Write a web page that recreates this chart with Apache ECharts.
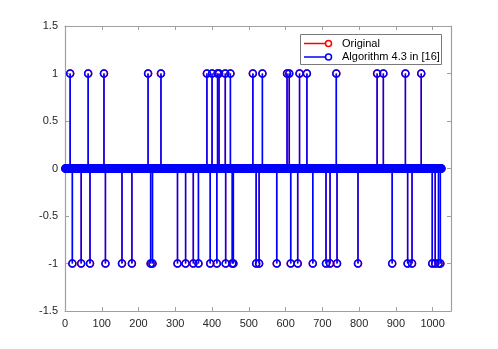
<!DOCTYPE html>
<html>
<head>
<meta charset="utf-8">
<script src="https://cdn.jsdelivr.net/npm/echarts@6/dist/echarts.min.js"></script>
<style>
  html, body { margin: 0; padding: 0; background: #fff; }
  #app { width: 498px; height: 349px; }
</style>
</head>
<body>
<div id="app"></div>
<script>
// signal length and spike positions
const signalLength = 1024;
const plusOnes = [14, 63, 106, 226, 261, 386, 400, 415, 419, 436, 450, 511, 528, 537, 604, 610, 638, 658, 738, 849, 866, 926, 969];
const minusOnes = [20, 44, 68, 110, 155, 182, 233, 238, 306, 328, 349, 363, 395, 413, 437, 455, 458, 520, 528, 576, 614, 633, 674, 710, 721, 740, 797, 890, 932, 944, 999, 1007, 1016, 1021];
const xTicks = [0, 1050, 100];
const yTicks = [-1.5, 1.5, 0.5];

function buildSignal() {
  const out = [];
  for (let i = 1; i <= signalLength; i++) {
    let v = 0;
    if (plusOnes.indexOf(i) >= 0) v = 1;
    if (minusOnes.indexOf(i) >= 0) v = -1;
    out.push([i, v]);
  }
  return out;
}

const original = buildSignal();
const recovered = buildSignal();

const RED = '#ff0000';
const BLUE = '#0000ff';
const FONT = '"Liberation Sans", Arial, sans-serif';

function stems(color, width) {
  return function (params, api) {
    const x = api.value(0);
    const y = api.value(1);
    if (y === 0) {
      return null;
    }
    const p0 = api.coord([x, 0]);
    const p1 = api.coord([x, y]);
    return {
      type: 'line',
      shape: { x1: p0[0], y1: p0[1], x2: p1[0], y2: p1[1] },
      style: { stroke: color, lineWidth: width },
    };
  };
}

function markers(name, data, color, z) {
  return {
    type: 'scatter',
    name: name,
    data: data,
    symbol: 'circle',
    symbolSize: 7,
    z: z,
    itemStyle: {
      color: 'rgba(0,0,0,0)',
      borderColor: color,
      borderWidth: 1.5,
      opacity: 1,
    },
  };
}

const axisCommon = {
  type: 'value',
  axisLine: { show: true, onZero: false, lineStyle: { color: '#a0a0a0', width: 1.2 } },
  axisTick: { show: true, inside: true, length: 4, lineStyle: { color: '#a0a0a0' } },
  splitLine: { show: false },
};

const eChart = echarts.init(document.getElementById('app'));

const option = {
  animation: false,
  backgroundColor: '#fff',
  grid: { left: 65, right: 47, top: 26, bottom: 38 },
  xAxis: [
    Object.assign({}, axisCommon, {
      min: xTicks[0], max: xTicks[1], interval: xTicks[2],
      axisLabel: {
        color: '#262626', fontSize: 11, fontFamily: FONT, margin: 7,
        formatter: (v) => String(v),
      },
    }),
    Object.assign({}, axisCommon, {
      position: 'top',
      min: xTicks[0], max: xTicks[1], interval: xTicks[2],
      axisLabel: { show: false },
    }),
  ],
  yAxis: [
    Object.assign({}, axisCommon, {
      min: yTicks[0], max: yTicks[1], interval: yTicks[2],
      axisLabel: { color: '#262626', fontSize: 11, fontFamily: FONT, margin: 7 },
    }),
    Object.assign({}, axisCommon, {
      position: 'right',
      min: yTicks[0], max: yTicks[1], interval: yTicks[2],
      axisLabel: { show: false },
    }),
  ],
  series: [
    { type: 'custom', name: 'Original', data: original, renderItem: stems(RED, 1.2), z: 2 },
    markers('Original', original, RED, 3),
    { type: 'custom', name: 'Algorithm 4.3 in [16]', data: recovered, renderItem: stems(BLUE, 1.6), z: 4 },
    markers('Algorithm 4.3 in [16]', recovered, BLUE, 5),
  ],
  graphic: [
    {
      type: 'rect',
      z: 100,
      shape: { x: 300.5, y: 34.5, width: 141, height: 30 },
      style: { fill: '#fff', stroke: '#7a7a7a', lineWidth: 1 },
    },
    {
      type: 'line', z: 101,
      shape: { x1: 304, y1: 43.5, x2: 326, y2: 43.5 },
      style: { stroke: RED, lineWidth: 1.5 },
    },
    {
      type: 'circle', z: 101,
      shape: { cx: 328.5, cy: 43.5, r: 3 },
      style: { fill: 'none', stroke: RED, lineWidth: 1.5 },
    },
    {
      type: 'text', z: 101, x: 342, y: 43.5,
      style: { text: 'Original', fill: '#000', font: '11px ' + FONT, verticalAlign: 'middle' },
    },
    {
      type: 'line', z: 101,
      shape: { x1: 304, y1: 57, x2: 326, y2: 57 },
      style: { stroke: BLUE, lineWidth: 1.5 },
    },
    {
      type: 'circle', z: 101,
      shape: { cx: 328.5, cy: 57, r: 3 },
      style: { fill: 'none', stroke: BLUE, lineWidth: 1.5 },
    },
    {
      type: 'text', z: 101, x: 342, y: 57,
      style: { text: 'Algorithm 4.3 in [16]', fill: '#000', font: '11px ' + FONT, verticalAlign: 'middle' },
    },
  ],
};
eChart.setOption(option);
</script>
</body>
</html>
